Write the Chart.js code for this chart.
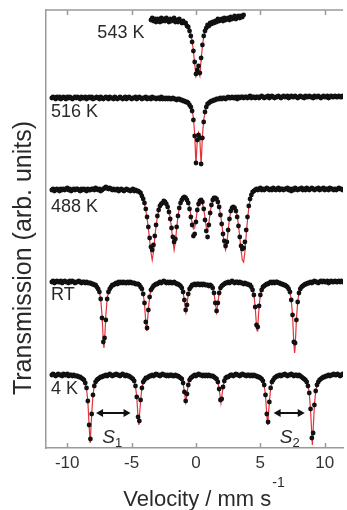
<!DOCTYPE html>
<html><head><meta charset="utf-8">
<script src="https://cdn.jsdelivr.net/npm/chart.js@4/dist/chart.umd.min.js"></script>
<style>html,body{margin:0;padding:0;background:#fff}#wrap{width:347px;height:510px}</style>
</head><body><div id="wrap"><canvas id="c" width="347" height="510"></canvas></div>
<script>
// Velocity channels (mm/s) shared by 516 K, 488 K, RT and 4 K spectra
const velocity = [
-11.2,-11.1,-11.0,-10.9,-10.8,-10.7,-10.6,-10.5,-10.4,-10.3,
-10.2,-10.1,-10.0,-9.9,-9.8,-9.7,-9.6,-9.5,-9.4,-9.3,
-9.2,-9.1,-9.0,-8.9,-8.8,-8.7,-8.6,-8.5,-8.4,-8.3,
-8.2,-8.1,-8.0,-7.9,-7.8,-7.7,-7.6,-7.5,-7.4,-7.3,
-7.2,-7.1,-7.0,-6.9,-6.8,-6.7,-6.6,-6.5,-6.4,-6.3,
-6.2,-6.1,-6.0,-5.9,-5.8,-5.7,-5.6,-5.5,-5.4,-5.3,
-5.2,-5.1,-5.0,-4.9,-4.8,-4.7,-4.6,-4.5,-4.4,-4.3,
-4.2,-4.1,-4.0,-3.9,-3.8,-3.7,-3.6,-3.5,-3.4,-3.3,
-3.2,-3.1,-3.0,-2.9,-2.8,-2.7,-2.6,-2.5,-2.4,-2.3,
-2.2,-2.1,-2.0,-1.9,-1.8,-1.7,-1.6,-1.5,-1.4,-1.3,
-1.2,-1.1,-1.0,-0.9,-0.8,-0.7,-0.6,-0.5,-0.4,-0.3,
-0.2,-0.1,0.0,0.1,0.2,0.3,0.4,0.5,0.6,0.7,
0.8,0.9,1.0,1.1,1.2,1.3,1.4,1.5,1.6,1.7,
1.8,1.9,2.0,2.1,2.2,2.3,2.4,2.5,2.6,2.7,
2.8,2.9,3.0,3.1,3.2,3.3,3.4,3.5,3.6,3.7,
3.8,3.9,4.0,4.1,4.2,4.3,4.4,4.5,4.6,4.7,
4.8,4.9,5.0,5.1,5.2,5.3,5.4,5.5,5.6,5.7,
5.8,5.9,6.0,6.1,6.2,6.3,6.4,6.5,6.6,6.7,
6.8,6.9,7.0,7.1,7.2,7.3,7.4,7.5,7.6,7.7,
7.8,7.9,8.0,8.1,8.2,8.3,8.4,8.5,8.6,8.7,
8.8,8.9,9.0,9.1,9.2,9.3,9.4,9.5,9.6,9.7,
9.8,9.9,10.0,10.1,10.2,10.3,10.4,10.5,10.6,10.7,
10.8,10.9,11.0,11.1,11.2,11.3,11.4];

// 543 K was measured over a narrower velocity range
const velocity543 = [
-3.5,-3.4,-3.3,-3.2,-3.1,-3.0,-2.9,-2.8,-2.7,-2.6,
-2.5,-2.4,-2.3,-2.2,-2.1,-2.0,-1.9,-1.8,-1.7,-1.6,
-1.5,-1.4,-1.3,-1.2,-1.1,-1.0,-0.9,-0.8,-0.7,-0.6,
-0.5,-0.4,-0.3,-0.2,-0.1,0.0,0.1,0.2,0.3,0.4,
0.5,0.6,0.7,0.8,0.9,1.0,1.1,1.2,1.3,1.4,
1.5,1.6,1.7,1.8,1.9,2.0,2.1,2.2,2.3,2.4,
2.5,2.6,2.7,2.8,2.9,3.0,3.1,3.2,3.3,3.4,
3.5,3.6,3.7];

// Relative transmission (arb. units), measured points
const trans543 = [
0,2,-1,1,-2,1,0,-2,2,-1,
1,-1,2,0,-2,1,-1,0,2,-2,
0,-2,1,-1,-3,-1,-3,-3,-6,-7,
-11,-16,-22,-31,-42,-54,-50,-46,-53,-38,
-25,-16,-11,-8,-5,-6,-3,-4,-2,-3,
-1,-2,1,-1,0,1,-1,2,0,1,
2,0,3,1,2,4,1,3,4,2,
4,3,5];

const trans516 = [
0,1,0,-1,1,0,1,-1,0,1,
0,-1,1,0,1,0,-1,0,1,0,
1,0,-1,1,0,0,1,-1,0,1,
0,1,-1,0,0,1,0,-1,1,0,
-1,0,1,0,-1,1,0,0,-1,1,
0,-1,0,1,0,-1,0,1,-1,0,
1,0,-1,0,0,1,-1,0,1,0,
-1,0,0,1,-1,0,0,-1,1,0,
0,-1,0,0,-1,1,-1,0,-1,0,
-1,0,-1,-1,0,-1,-1,-2,-1,-1,
-2,-2,-3,-3,-4,-4,-5,-7,-9,-13,
-22,-38,-65,-42,-37,-40,-66,-40,-24,-14,
-9,-6,-5,-4,-3,-3,-2,-2,-1,-1,
-1,0,-1,0,0,-1,0,1,0,0,
1,0,0,1,-1,1,0,1,1,0,
1,1,0,1,2,0,1,1,0,1,
1,0,1,2,1,0,1,1,2,0,
1,2,1,0,1,1,2,1,0,1,
2,1,1,2,0,1,2,1,1,2,
1,0,1,2,1,1,0,2,1,1,
2,1,1,0,2,1,1,2,1,0,
1,2,1,1,2,0,1,2,1,1,
2,1,1,2,1,1,2];

const trans488 = [
0,1,-1,0,1,0,-1,1,0,1,
0,1,2,0,1,-1,0,1,0,1,
1,0,-1,1,0,1,0,-1,1,0,
0,1,1,0,2,1,0,1,-1,0,
1,2,3,2,1,2,1,0,1,0,
0,1,-1,0,1,0,-1,0,1,0,
0,-1,0,1,-1,0,-1,-1,-2,-3,
-6,-9,-13,-19,-27,-37,-48,-57,-60,-55,
-46,-35,-26,-20,-16,-14,-13,-11,-12,-14,
-17,-22,-29,-38,-47,-52,-49,-37,-26,-18,
-13,-10,-8,-7,-8,-10,-13,-19,-27,-35,
-46,-44,-32,-20,-14,-11,-10,-12,-19,-30,
-41,-47,-35,-23,-15,-10,-8,-8,-9,-12,
-17,-25,-34,-44,-51,-56,-52,-40,-29,-21,
-18,-17,-18,-21,-27,-36,-47,-56,-59,-58,
-52,-40,-27,-16,-9,-5,-2,-1,0,1,
0,1,2,0,1,0,1,2,1,0,
1,0,2,1,0,1,2,0,1,1,
0,1,1,2,0,1,-1,1,0,2,
1,0,1,1,2,0,1,0,2,1,
0,1,2,1,0,1,1,2,0,1,
1,2,0,1,1,0,2,1,1,0,
1,0,1,2,1,1,0];

const transRT = [
0,1,-1,0,1,0,0,1,-1,0,
1,0,0,-1,1,0,1,0,-1,0,
0,1,0,-1,0,0,-1,0,-1,-1,
-1,-2,-2,-3,-3,-5,-7,-10,-17,-36,
-60,-56,-38,-17,-10,-7,-5,-3,-3,-2,
-1,-2,0,-1,0,-1,0,-1,-1,0,
-1,0,-1,-1,-1,-2,-2,-2,-3,-5,
-7,-12,-21,-40,-46,-28,-15,-8,-6,-4,
-3,-2,-2,-1,0,-1,0,1,0,-1,
0,-1,0,-1,-1,0,-1,-2,-2,-3,
-4,-6,-10,-18,-28,-23,-12,-7,-5,-3,
-3,-2,-3,-2,-2,-3,-2,-3,-2,-3,
-3,-3,-4,-3,-4,-6,-11,-21,-29,-21,
-11,-6,-4,-3,-2,-1,-1,0,-1,0,
1,0,-1,0,0,-1,0,-1,-1,-2,
-1,-2,-2,-3,-3,-5,-8,-13,-25,-43,
-45,-24,-13,-8,-5,-4,-3,-2,-2,-1,
0,-1,0,-1,0,0,-1,-1,-2,-2,
-3,-3,-4,-5,-7,-10,-18,-33,-60,-61,
-38,-20,-11,-7,-5,-4,-3,-2,-2,-1,
-1,0,-1,0,1,0,0,-1,0,1,
0,1,0,0,1,-1,0,1,0,0,
1,0,0,1,0,1,0];

const trans4K = [
0,1,0,-1,0,1,0,0,-1,1,
0,0,1,-1,0,0,-1,0,-1,-1,
-1,-2,-2,-3,-4,-5,-8,-13,-26,-50,
-64,-39,-20,-11,-7,-5,-4,-3,-2,-2,
-1,-1,0,-1,0,1,0,-1,0,0,
1,0,0,-1,0,1,0,-1,0,-1,
-1,-2,-3,-4,-6,-11,-22,-42,-46,-25,
-13,-7,-5,-3,-3,-2,-1,-1,0,-1,
0,1,0,0,-1,0,1,0,0,-1,
0,-1,0,0,-1,-1,0,-1,-1,-2,
-3,-4,-8,-17,-26,-19,-10,-5,-3,-2,
-1,0,-1,0,1,0,0,-1,0,-1,
0,-1,0,-1,-1,-1,-2,-3,-4,-7,
-14,-25,-24,-12,-6,-3,-2,-2,-1,0,
0,-1,0,1,0,0,-1,0,1,0,
0,-1,0,0,-1,0,-1,0,-1,-1,
-2,-2,-3,-4,-6,-10,-20,-39,-47,-27,
-13,-7,-5,-3,-2,-1,-1,0,-1,0,
0,1,0,-1,0,0,1,0,-1,0,
0,-1,0,-1,-2,-3,-4,-5,-7,-11,
-18,-34,-63,-58,-30,-16,-10,-7,-5,-4,
-3,-2,-2,-1,-1,0,-1,0,0,1,
0,0,1,0,-1,0,1];

// Fitted curves: [velocity, relative transmission]
const fit543 = [[-3.5,0],[-2,0],[-1.2,-2],[-0.8,-4],[-0.6,-6],[-0.5,-9],[-0.4,-14],[-0.3,-21],[-0.2,-31],[-0.1,-44],[0,-56],[0.1,-52],[0.15,-50],[0.2,-52],[0.3,-56],[0.4,-40],[0.5,-26],[0.6,-17],[0.7,-11],[0.9,-6],[1.2,-3],[2,0],[3,2],[3.7,4]];

const fit516 = [[-11.2,0],[-5,0],[-2,-1],[-1.2,-2],[-0.8,-4],[-0.5,-6],[-0.4,-8],[-0.3,-12],[-0.2,-20],[-0.1,-36],[0,-67],[0.1,-42],[0.2,-35],[0.3,-42],[0.4,-67],[0.5,-38],[0.6,-22],[0.7,-14],[0.8,-9],[1.0,-5],[1.3,-3],[2,-1],[5,1],[11.4,1]];

const fit488 = [[-11.2,0],[-5,0],[-4.6,-1],[-4.4,-2],[-4.3,-4],[-4.2,-7],[-4.1,-10],[-4.0,-14],[-3.9,-20],[-3.8,-28],[-3.7,-38],[-3.6,-50],[-3.5,-62],[-3.4,-70],[-3.3,-62],[-3.2,-48],[-3.1,-36],[-3.0,-27],[-2.9,-21],[-2.8,-17],[-2.6,-13],[-2.4,-12],[-2.2,-16],[-2.1,-21],[-2.0,-28],[-1.9,-38],[-1.8,-50],[-1.7,-60],[-1.6,-52],[-1.5,-38],[-1.4,-26],[-1.3,-18],[-1.2,-13],[-1.0,-8],[-0.8,-8],[-0.6,-12],[-0.5,-17],[-0.4,-25],[-0.3,-33],[-0.2,-39],[-0.1,-38],[0.0,-30],[0.1,-20],[0.2,-14],[0.4,-10],[0.6,-18],[0.7,-28],[0.8,-37],[0.9,-40],[1.0,-33],[1.1,-23],[1.2,-15],[1.4,-8],[1.6,-9],[1.7,-12],[1.8,-17],[1.9,-24],[2.0,-33],[2.1,-44],[2.2,-55],[2.3,-60],[2.4,-53],[2.5,-40],[2.6,-29],[2.7,-22],[2.8,-18],[3.0,-17],[3.1,-20],[3.2,-26],[3.3,-35],[3.4,-47],[3.5,-60],[3.6,-70],[3.7,-72],[3.8,-62],[3.9,-45],[4.0,-30],[4.1,-18],[4.2,-10],[4.3,-5],[4.5,-2],[5,0],[11.4,1]];

const fitRT = [[-11.2,0],[-9,0],[-8.5,-2],[-8.0,-2],[-7.8,-3],[-7.6,-7],[-7.5,-10],[-7.4,-17],[-7.3,-33],[-7.2,-59],[-7.15,-66],[-7.1,-59],[-7.0,-33],[-6.9,-17],[-6.8,-10],[-6.7,-7],[-6.5,-3],[-6.0,-1],[-5,-1],[-4.6,-2],[-4.4,-4],[-4.3,-5],[-4.2,-7],[-4.1,-12],[-4.0,-21],[-3.9,-40],[-3.83,-49],[-3.7,-28],[-3.6,-15],[-3.5,-8],[-3.4,-5],[-3.2,-3],[-3.0,-2],[-2.5,-1],[-1.6,-2],[-1.3,-3],[-1.2,-4],[-1.1,-6],[-1.0,-10],[-0.9,-19],[-0.78,-30],[-0.7,-23],[-0.6,-12],[-0.5,-7],[-0.4,-5],[-0.2,-3],[0.4,-2],[1.0,-3],[1.2,-4],[1.3,-6],[1.4,-11],[1.5,-21],[1.6,-30],[1.7,-21],[1.8,-11],[1.9,-6],[2.0,-4],[2.2,-2],[3.0,-1],[3.8,-1],[4.2,-3],[4.3,-5],[4.4,-8],[4.5,-13],[4.6,-25],[4.7,-44],[4.75,-49],[4.8,-44],[4.9,-25],[5.0,-13],[5.1,-8],[5.2,-5],[5.3,-4],[5.5,-2],[6.0,-1],[6.8,-3],[7.0,-4],[7.1,-5],[7.2,-7],[7.3,-10],[7.4,-18],[7.5,-33],[7.6,-61],[7.66,-71],[7.7,-66],[7.8,-38],[7.9,-20],[8.0,-11],[8.1,-7],[8.2,-5],[8.3,-4],[8.5,-2],[9.0,-1],[11.4,0]];

const fit4K = [[-11.2,0],[-10,0],[-9.5,-1],[-9.0,-2],[-8.8,-4],[-8.7,-5.5],[-8.6,-8],[-8.5,-14],[-8.4,-26],[-8.3,-51],[-8.22,-68],[-8.1,-39],[-8.0,-20],[-7.9,-11],[-7.8,-7],[-7.7,-5],[-7.5,-3],[-7.0,-1],[-6,0],[-5.3,-2],[-5.1,-2.5],[-5.0,-3.5],[-4.9,-4.5],[-4.8,-6.5],[-4.7,-11],[-4.6,-22],[-4.5,-42],[-4.44,-50],[-4.3,-25],[-4.2,-13],[-4.1,-7.5],[-4.0,-5],[-3.9,-3.5],[-3.7,-2],[-3,0],[-1.6,-1],[-1.3,-2],[-1.2,-3],[-1.1,-4.5],[-1.0,-8],[-0.9,-17],[-0.79,-27],[-0.7,-19],[-0.6,-9.5],[-0.5,-5],[-0.4,-3],[-0.2,-1],[0.5,0],[1.2,-1],[1.4,-2],[1.5,-3],[1.6,-4],[1.7,-7],[1.8,-14],[1.94,-28],[2.1,-12],[2.2,-6],[2.3,-3.5],[2.5,-2],[3,0],[4.6,-1],[4.9,-2.5],[5.0,-3],[5.1,-4],[5.2,-6],[5.3,-10.5],[5.4,-20],[5.5,-40],[5.57,-50],[5.7,-27],[5.8,-13],[5.9,-7.5],[6.0,-5],[6.1,-3.5],[6.3,-2],[7,0],[8,-1],[8.3,-3],[8.4,-4],[8.5,-5],[8.6,-7],[8.7,-11],[8.8,-18],[8.9,-35],[9.04,-70],[9.2,-30],[9.3,-16],[9.4,-10],[9.5,-7],[9.6,-5],[9.7,-4],[9.8,-3],[10.2,-1],[11.4,0]];

const spectrumLabels = ['543 K', '516 K', '488 K', 'RT', '4 K'];
const spectrumOffsets = [428, 350, 258, 166, 73];   // vertical stacking (arb. units)
const xTicks = [-10, -5, 0, 5, 10];

// ---- layout / style config (not data) ----
const labelPos = [[-7.66, 415], [-11.26, 336], [-11.26, 241], [-11.26, 153], [-11.26, 59]];
const arrowSpans = [{from: -7.76, to: -5.08, y: 35, label: '1', lx: -6.3, ly: 5},
                    {from: 6.03, to: 8.45, y: 35, label: '2', lx: 7.5, ly: 5}];
const FONT = '"Liberation Sans", Arial, Helvetica, sans-serif';

const series = [
  {v: velocity543, t: trans543, fit: fit543},
  {v: velocity, t: trans516, fit: fit516},
  {v: velocity, t: trans488, fit: fit488},
  {v: velocity, t: transRT, fit: fitRT},
  {v: velocity, t: trans4K, fit: fit4K}
];

const datasets = [];
series.forEach((s, i) => {
  const off = spectrumOffsets[i];
  datasets.push({
    label: spectrumLabels[i] + ' fit',
    data: s.fit.map(p => ({x: p[0], y: off + p[1]})),
    showLine: true, pointRadius: 0, borderColor: '#e2333a', borderWidth: 1.2,
    tension: 0, order: 2
  });
  datasets.push({
    label: spectrumLabels[i],
    data: s.v.map((v, j) => ({x: v, y: off + s.t[j]})),
    showLine: false, pointRadius: 2.4, pointBackgroundColor: '#111',
    pointBorderWidth: 0, pointBorderColor: '#111', order: 1
  });
});

const decor = {
  id: 'decor',
  afterDraw(chart) {
    const {ctx, chartArea: {left, right, top, bottom}, scales: {x, y}} = chart;
    ctx.save();
    // top frame + inward ticks
    ctx.strokeStyle = '#9a9a9a'; ctx.lineWidth = 1.5;
    ctx.beginPath();
    ctx.moveTo(left, top); ctx.lineTo(right, top);
    xTicks.forEach(v => {
      const px = Math.round(x.getPixelForValue(v)) + 0.5;
      ctx.moveTo(px, top); ctx.lineTo(px, top + 5);
      ctx.moveTo(px, bottom); ctx.lineTo(px, bottom - 5);
    });
    ctx.stroke();

    // spectrum labels
    ctx.fillStyle = '#2a2a2a';
    ctx.font = '18px ' + FONT;
    ctx.textAlign = 'left'; ctx.textBaseline = 'middle';
    spectrumLabels.forEach((lab, i) => {
      ctx.fillText(lab, x.getPixelForValue(labelPos[i][0]), y.getPixelForValue(labelPos[i][1]));
    });

    // S1 / S2 double arrows
    ctx.strokeStyle = '#111'; ctx.fillStyle = '#111'; ctx.lineWidth = 2;
    arrowSpans.forEach(a => {
      const x1 = x.getPixelForValue(a.from), x2 = x.getPixelForValue(a.to), py = y.getPixelForValue(a.y);
      ctx.beginPath(); ctx.moveTo(x1 + 4, py); ctx.lineTo(x2 - 4, py); ctx.stroke();
      ctx.beginPath(); ctx.moveTo(x1, py); ctx.lineTo(x1 + 7, py - 4); ctx.lineTo(x1 + 7, py + 4); ctx.closePath(); ctx.fill();
      ctx.beginPath(); ctx.moveTo(x2, py); ctx.lineTo(x2 - 7, py - 4); ctx.lineTo(x2 - 7, py + 4); ctx.closePath(); ctx.fill();
      const lx = x.getPixelForValue(a.lx), ly = y.getPixelForValue(a.ly);
      ctx.textBaseline = 'alphabetic'; ctx.textAlign = 'right';
      ctx.font = 'italic 19px ' + FONT; ctx.fillStyle = '#2a2a2a';
      ctx.fillText('S', lx, ly);
      ctx.textAlign = 'left'; ctx.font = '13px ' + FONT;
      ctx.fillText(a.label, lx, ly + 4);
      ctx.fillStyle = '#111';
    });

    // axis titles
    ctx.fillStyle = '#2a2a2a';
    ctx.font = '22px ' + FONT;
    const main = 'Velocity / mm s';
    ctx.textBaseline = 'alphabetic';
    const w1 = ctx.measureText(main).width;
    ctx.font = '14px ' + FONT;
    const w2 = ctx.measureText('-1').width;
    const startX = 204 - (w1 + w2 + 1) / 2;
    ctx.font = '22px ' + FONT; ctx.textAlign = 'left';
    ctx.fillText(main, startX, 506);
    ctx.font = '14px ' + FONT;
    ctx.fillText('-1', startX + w1 + 1, 487);

    ctx.translate(24, 258);
    ctx.rotate(-Math.PI / 2);
    ctx.font = '25px ' + FONT; ctx.textAlign = 'center'; ctx.textBaseline = 'middle';
    ctx.fillText('Transmission (arb. units)', 0, 0);
    ctx.restore();
  }
};

new Chart(document.getElementById('c'), {
  type: 'scatter',
  data: {datasets},
  options: {
    responsive: false, animation: false, devicePixelRatio: 1,
    layout: {padding: {top: 10, right: 0, bottom: 0, left: 0}},
    plugins: {legend: {display: false}, tooltip: {enabled: false}},
    scales: {
      x: {
        type: 'linear', position: 'bottom', min: -11.65, max: 11.42,
        grid: {display: false, drawTicks: false},
        border: {display: true, color: '#9a9a9a', width: 1.5},
        ticks: {color: '#333', font: {size: 17, family: FONT}, padding: 5, maxRotation: 0},
        afterBuildTicks: s => { s.ticks = xTicks.map(v => ({value: v})); },
        afterFit: s => { s.height = 62; }
      },
      y: {
        type: 'linear', position: 'left', min: 0, max: 438,
        grid: {display: false, drawTicks: false},
        border: {display: true, color: '#9a9a9a', width: 1.5},
        ticks: {display: false},
        afterFit: s => { s.width = 46; }
      }
    }
  },
  plugins: [decor]
});
</script></body></html>
